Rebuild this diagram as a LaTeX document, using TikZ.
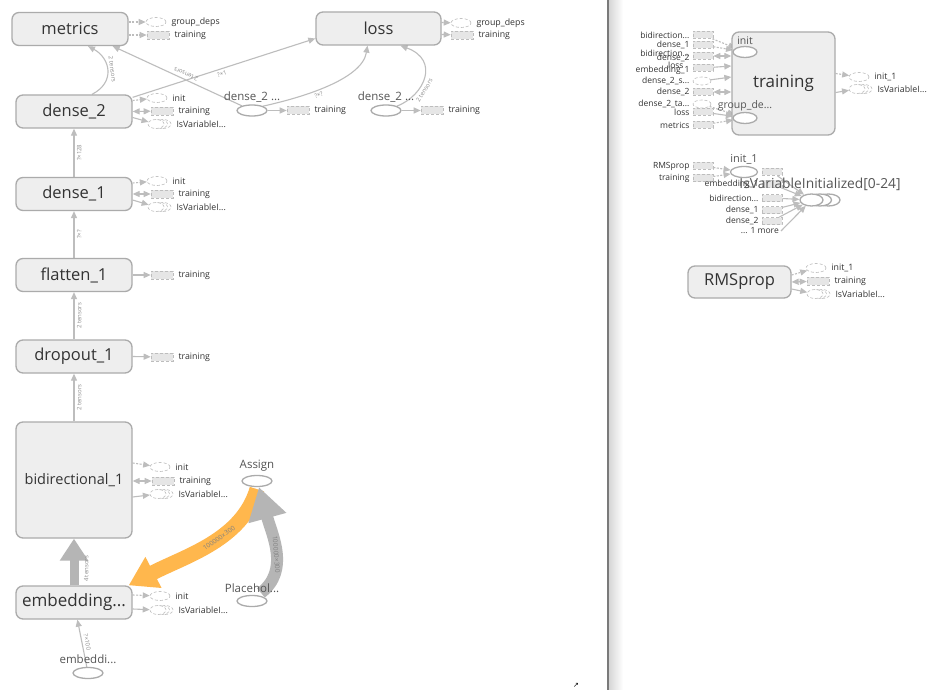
\documentclass[tikz,border=0pt]{standalone}
\usepackage{fontspec}
\setmainfont{Open Sans}
\newfontfamily\dejavu{DejaVu Sans}
\usetikzlibrary{arrows.meta,shapes.geometric,calc}
\definecolor{nodefill}{HTML}{EEEEEE}
\definecolor{nodeline}{HTML}{ABABAB}
\definecolor{edgec}{HTML}{BDBDBD}
\definecolor{txt}{HTML}{333333}
\definecolor{optxt}{HTML}{555555}
\definecolor{stubline}{HTML}{BDBDBD}
\definecolor{stubfill}{HTML}{E6E6E6}
\definecolor{orangec}{RGB}{255,183,77}
\definecolor{thickgray}{HTML}{B5B5B5}
\definecolor{divider}{HTML}{7A7A7A}
\newcommand{\fsz}[1]{\fontsize{#1}{#1}\selectfont}
\pgfdeclarelayer{bg}
\pgfdeclarelayer{edges}
\pgfsetlayers{bg,edges,main}
% stubs with label on the right
\newcommand{\estub}[4]{\node[stubE] (#1) at (#2,#3) {};\node[slbl,anchor=west] (#1l) at ([xshift=5pt]#1.east) {#4};}
\newcommand{\rstub}[4]{\node[stubR] (#1) at (#2,#3) {};\node[slbl,anchor=west] (#1l) at ([xshift=5pt]#1.east) {#4};}
\newcommand{\mstub}[4]{\node[stubE,minimum width=16pt] (#1c) at (#2+7,#3) {};\node[stubE,minimum width=16pt] (#1b) at (#2+3.5,#3) {};\node[stubE,minimum width=16pt] (#1) at (#2,#3) {};\node[slbl,anchor=west] (#1l) at ([xshift=5pt]#1c.east) {#4};}
% stubs with label on the left (right panel)
\newcommand{\rstubL}[4]{\node[stubR,minimum width=20pt,minimum height=7pt] (#1) at (#2,#3) {};\node[rlbl,anchor=east] (#1l) at ([xshift=-3pt]#1.west) {#4};}
\newcommand{\estubL}[4]{\node[stubE,minimum width=18pt,minimum height=8pt] (#1) at (#2,#3) {};\node[rlbl,anchor=east] (#1l) at ([xshift=-3pt]#1.west) {#4};}
\begin{document}
\begin{tikzpicture}[x=1pt,y=-1pt,
  grp/.style={draw=nodeline, fill=nodefill, rounded corners=7pt, line width=1.3pt, minimum width=116pt, minimum height=33pt, inner sep=0pt, text=txt, font=\fsz{16.5}},
  opnode/.style={ellipse, draw=nodeline, fill=white, line width=1.3pt, minimum width=30pt, minimum height=11pt, inner sep=0pt},
  oplbl/.style={font=\fsz{11.5}, text=optxt, inner sep=0pt},
  stubE/.style={ellipse, draw=stubline, densely dashed, line width=0.6pt, fill=white, minimum width=20pt, minimum height=9pt, inner sep=0pt},
  stubR/.style={rectangle, draw=stubline, densely dashed, line width=0.6pt, fill=stubfill, minimum width=22pt, minimum height=8pt, inner sep=0pt},
  slbl/.style={font=\fsz{8.8}, text=txt, inner sep=0pt},
  rlbl/.style={font=\fsz{8.5}, text=txt, inner sep=0pt},
  conn/.style={draw=edgec, line width=1.1pt, -{Triangle[length=7pt,width=6pt]}},
  ctrl/.style={conn, dash pattern=on 2pt off 1.5pt},
  dconn/.style={draw=edgec, line width=1.1pt, {Triangle[length=7pt,width=6pt]}-{Triangle[length=7pt,width=6pt]}},
  elbl/.style={font=\fsz{6}, text=black!45, inner sep=0.5pt},
]
\useasboundingbox (0,0) rectangle (948,690);
\begin{pgfonlayer}{bg}
  \fill[white] (0,0) rectangle (948,690);
  \shade[left color=black!16, right color=white] (609,0) rectangle (623,690);
  \draw[line width=1.3pt, draw=divider] (608,0) -- (608,690);
\end{pgfonlayer}

% ---------- left panel: group nodes ----------
\node[grp] (metrics) at (70,29) {metrics};
\node[grp, minimum width=125pt] (loss) at (378.5,28.5) {loss};
\node[grp] (dense2) at (74,111.5) {dense\_2};
\node[grp] (dense1) at (74,194) {dense\_1};
\node[grp] (flatten1) at (74,275) {flatten\_1};
\node[grp] (dropout1) at (74,356.5) {dropout\_1};
\node[grp, minimum height=116pt, font=\fsz{14.5}] (bidir) at (74,480) {bidirectional\_1};
\node[grp, font=\fsz{17}] (embedding) at (74,602.5) {embedding...};

% op nodes
\node[opnode, label={[oplbl, label distance=2pt]above:dense\_2 ...}] (e1) at (252,110.5) {};
\node[opnode, label={[oplbl, label distance=2pt]above:dense\_2 ...}] (e2) at (386,110.5) {};
\node[opnode, label={[oplbl, label distance=3pt]above:Assign}] (assign) at (257,481) {};
\node[opnode, label={[oplbl, label distance=1.5pt]above:Placehol...}] (ph) at (252,601) {};
\node[opnode, label={[oplbl, label distance=3pt]above:embeddi...}] (emb0) at (88,673) {};

% stubs (left)
\estub{mgd}{156}{22}{group\_deps}
\rstub{mtr}{158}{35}{training}
\estub{lgd}{461}{23}{group\_deps}
\rstub{ltr}{462}{35}{training}
\estub{dti}{157}{98}{init}
\rstub{dtt}{162}{111}{training}
\mstub{dtv}{156}{124}{IsVariableI...}
\estub{d1i}{157}{181}{init}
\rstub{d1t}{162}{194}{training}
\mstub{d1v}{156}{207}{IsVariableI...}
\rstub{f1t}{162}{275}{training}
\rstub{do1t}{162}{357}{training}
\estub{bii}{160}{467}{init}
\rstub{bit}{163}{481}{training}
\mstub{biv}{158}{494}{IsVariableI...}
\estub{ebi}{160}{596}{init}
\mstub{ebv}{158}{610}{IsVariableI...}
\rstub{e1t}{298}{110.5}{training}
\rstub{e2t}{432}{110.5}{training}

% ---------- right panel ----------
\node[grp, minimum width=103pt, minimum height=103pt, font=\fsz{17}] (training) at (783.5,83.5) {training};
\node[opnode, minimum width=24pt, label={[oplbl, font=\fsz{10.5}, label distance=1pt]above:init}] (ti) at (745,52) {};
\node[opnode, minimum width=24pt, label={[oplbl, font=\fsz{10.5}, label distance=1pt]above:group\_de...}] (tg) at (745,118) {};

\rstubL{r1}{703}{35}{bidirection...}
\rstubL{r2}{703}{45}{dense\_1}
\node[stubR,minimum width=20pt,minimum height=7pt] (r3) at (703,56) {};
\node[rlbl,anchor=east] (r3a) at ([xshift=-3pt,yshift=3pt]r3.west) {bidirection...};
\node[rlbl,anchor=east] (r3b) at ([xshift=-3pt,yshift=-2pt]r3.west) {dense\_2};
\node[stubR,minimum width=20pt,minimum height=7pt] (r4) at (703,68) {};
\node[rlbl,anchor=east] (r4a) at ([xshift=-9pt,yshift=3pt]r4.west) {loss};
\node[rlbl,anchor=east] (r4b) at ([xshift=-3pt,yshift=-2pt]r4.west) {embedding\_1};
\estubL{r5}{702}{81}{dense\_2\_s...}
\rstubL{r6}{703}{92}{dense\_2}
\estubL{r7}{702}{104}{dense\_2\_ta...}
\rstubL{r8}{703}{112}{loss}
\rstubL{r9}{703}{125}{metrics}

\estub{toi}{859}{77}{init\_1}
\mstub{tov}{857}{89}{IsVariableI...}

\node[opnode, minimum width=27pt, label={[oplbl, font=\fsz{11}, label distance=1pt]above:init\_1}] (i1) at (744,172) {};
\rstubL{rmss}{703}{166}{RMSprop}
\rstubL{trs}{703}{178}{training}

\node[opnode, minimum width=23pt, minimum height=12pt] (ivc) at (828.5,200) {};
\node[opnode, minimum width=23pt, minimum height=12pt] (ivb) at (820,200) {};
\node[opnode, minimum width=23pt, minimum height=12pt] (iv) at (811.5,200) {};
\rstubL{s1}{772}{172}{}
\rstubL{s2}{772}{184}{embedding\_1}
\rstubL{s3}{772}{198}{bidirection...}
\rstubL{s4}{772}{210}{dense\_1}
\rstubL{s5}{772}{221}{dense\_2}
\node[rlbl, anchor=east] (more) at (779,231) {... 1 more};
\node[font=\fsz{13.8}, text=optxt, inner sep=0pt] (ivlbl) at (820,184) {IsVariableInitialized[0-24]};

\node[grp, minimum width=103pt, minimum height=32pt, font=\fsz{16.5}] (rms) at (739.5,282) {RMSprop};
\estub{rmi}{816}{268}{init\_1}
\rstub{rmt}{818}{281}{training}
\mstub{rmv}{815}{294}{IsVariableI...}

\node[font=\dejavu\fsz{7}, inner sep=0pt] (corner) at (576,685) {↗};

% ---------- edges ----------
\begin{pgfonlayer}{edges}
% vertical chain
\draw[conn] (dense1) -- node[elbl, sloped, below=2pt]{?×128} (dense2);
\draw[conn] (flatten1) -- node[elbl, sloped, below=2pt]{?×?} (dense1);
\draw[conn] (dropout1) -- node[elbl, sloped, below=2pt]{2 tensors} (flatten1);
\draw[conn] (bidir) -- node[elbl, sloped, below=2pt]{2 tensors} (dropout1);
\draw[draw=thickgray, line width=9pt, -{Triangle[length=22pt,width=27pt]}] (embedding) -- node[elbl, sloped, below=5pt, pos=0.35]{4 tensors} (bidir);
\draw[conn] (emb0) -- node[elbl, sloped, above=2pt]{?×100} (embedding);
% top
\draw[conn] ([xshift=18pt]dense2.north) .. controls (116,82) and (110,58) .. ([xshift=18pt]metrics.south) node[elbl, sloped, pos=0.5, above=2pt]{2 tensors};
\draw[conn] ([yshift=-3pt]dense2.north east) -- node[elbl, sloped, pos=0.48, below=2pt]{?×1} ([yshift=-10pt]loss.west);
\draw[conn] (e1) -- node[elbl, sloped, allow upside down, pos=0.45, below=2pt]{2 tensors} ([xshift=-16pt]metrics.south east);
\draw[conn] (e1.north east) .. controls (300,98) and (362,80) .. ([xshift=-11pt]loss.south) node[elbl, sloped, pos=0.42, below=2pt]{?×?};
\draw[conn] (e2.north east) .. controls (425,95) and (440,60) .. ([xshift=22pt]loss.south) node[elbl, sloped, pos=0.35, below=2pt]{2 tensors};
% big flows
\draw[draw=orangec, line width=15pt, -{Triangle[length=28pt,width=33pt]}] ([yshift=-2pt]assign.south) .. controls (242,540) and (185,556) .. ([xshift=-4pt]embedding.north east) node[elbl, font=\fsz{6.5}, text=black!50, sloped, pos=0.42]{100000×300};
\draw[draw=thickgray, line width=12pt, -{Triangle[length=32pt,width=37pt]}] ([xshift=9pt,yshift=2pt]ph.north) .. controls (290,570) and (272,535) .. ([xshift=2pt]assign.south) node[elbl, font=\fsz{6.5}, text=black!50, sloped, pos=0.45]{100000×300};
% stubs left
\draw[ctrl] ([yshift=7pt]metrics.east) -- (mgd);
\draw[ctrl] ([yshift=-6pt]metrics.east) -- (mtr);
\draw[ctrl] ([yshift=6pt]loss.east) -- (lgd);
\draw[conn] ([yshift=-6pt]loss.east) -- (ltr);
\draw[ctrl] ([yshift=11pt]dense2.east) -- (dti);
\draw[dconn] (dense2.east) -- (dtt);
\draw[conn] ([yshift=-6pt]dense2.east) -- (dtv);
\draw[ctrl] ([yshift=11pt]dense1.east) -- (d1i);
\draw[dconn] (dense1.east) -- (d1t);
\draw[conn] ([yshift=-6pt]dense1.east) -- (d1v);
\draw[conn] (flatten1.east) -- (f1t);
\draw[conn] (dropout1.east) -- (do1t);
\draw[ctrl] ([yshift=17pt]bidir.east) -- (bii);
\draw[dconn] (bidir.east |- bit) -- (bit);
\draw[conn] ([yshift=-17pt]bidir.east) -- (biv);
\draw[ctrl] ([yshift=7.5pt]embedding.east) -- (ebi);
\draw[conn] ([yshift=-6.5pt]embedding.east) -- (ebv);
\draw[conn] (e1) -- (e1t);
\draw[conn] (e2) -- (e2t);
% right panel
\draw[ctrl] (r1) -- (ti);
\draw[ctrl] (r2) -- (ti);
\draw[dconn] (r3) -- (training.west |- r3);
\draw[conn] (r4) -- ($(training.west |- r4)+(0,-2)$);
\draw[conn] (r5) -- ($(training.west |- r5)+(0,-4)$);
\draw[dconn] (r6) -- (training.west |- r6);
\draw[ctrl] (r7) -- (tg);
\draw[conn] (r8) -- (tg);
\draw[ctrl] (r9) -- (tg);
\draw[ctrl] ([yshift=10pt]training.east) -- (toi);
\draw[conn] ([yshift=-9pt]training.east) -- (tov);
\draw[ctrl] (rmss) -- (i1);
\draw[ctrl] (trs) -- (i1);
\draw[conn] (s1) -- (iv);
\draw[conn] (s2) -- (iv);
\draw[conn] (s3) -- (iv);
\draw[conn] (s4) -- (iv);
\draw[conn] (s5) -- (iv);
\draw[conn] ([xshift=2pt]more.east) -- (iv);
\draw[ctrl] ([yshift=7pt]rms.east) -- (rmi);
\draw[dconn] (rms.east) -- (rmt);
\draw[conn] ([yshift=-7pt]rms.east) -- (rmv);
\end{pgfonlayer}
\end{tikzpicture}
\end{document}
